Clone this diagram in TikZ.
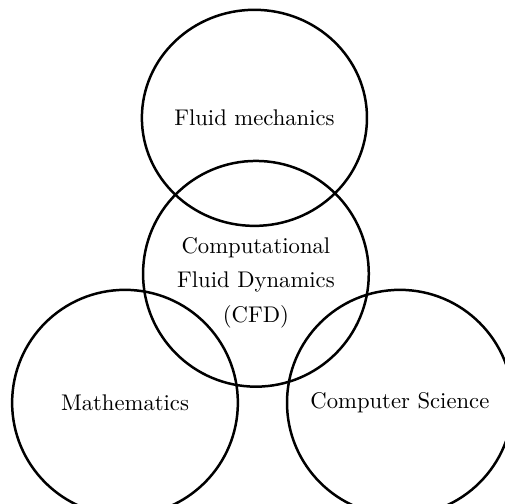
\documentclass[tikz,border=0pt]{standalone}
\usepackage{tikz}
\usetikzlibrary{positioning, shapes.geometric}
\tikzset{
	field/.style={draw, line width=1.1pt, circle, minimum size=3.5cm, align=center}
}
\tikzset{
	fieldtext/.style={align=center, font=\fontsize{10}{15.4}\selectfont}
}
\begin{document}
\begin{tikzpicture}
      \useasboundingbox (0,0) rectangle (7.83,7.81);
      \node[field, ellipse, inner sep=0pt, minimum width=3.49cm, minimum height=3.35cm] (F) at (3.945,5.983) {};
      \node[fieldtext] (Ft) at (F) {Fluid mechanics};
      \node[field] (C) at (3.968,3.565) {};
      \node[fieldtext, yshift=-0.14cm] (Ct) at (C) {Computational\\Fluid Dynamics\\(CFD)};
      \node[field] (M) at (1.938,1.566) {Mathematics};
      \node[field] (S) at (6.20,1.566) {Computer Science};
    \end{tikzpicture}
\end{document}
